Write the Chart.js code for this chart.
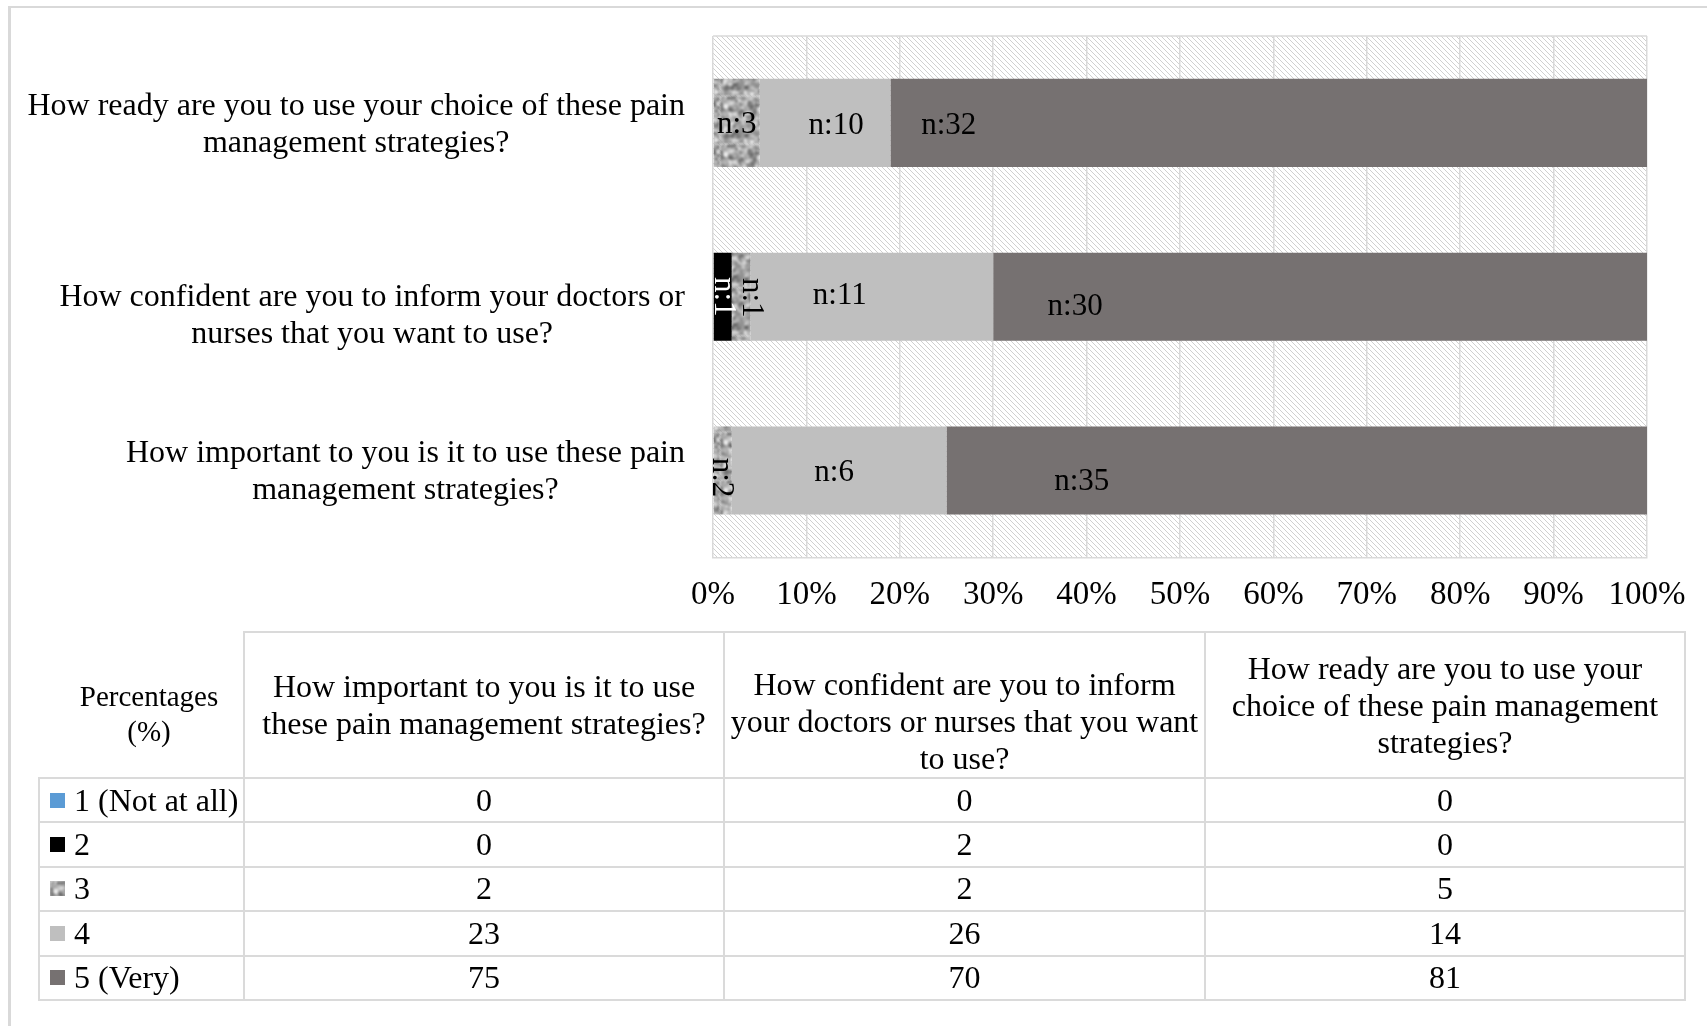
<!DOCTYPE html>
<html>
<head>
<meta charset="utf-8">
<script src="https://cdn.jsdelivr.net/npm/chart.js@4"></script>
<style>
    body { margin: 0; background: #fff; width: 1707px; height: 1026px; overflow: hidden; position: relative; font-family: 'Liberation Serif', 'Times New Roman', serif; }
    #frame { position: absolute; left: 8px; top: 6px; width: 1699px; height: 1020px; border-top: 2px solid #d9d9d9; border-left: 3px solid #d9d9d9; }
    #chart { position: absolute; left: 0; top: 0; }
    #tbl { position: absolute; left: 38px; top: 631px; border-collapse: collapse; table-layout: fixed; font-size: 32px; color: #000; }
    #tbl td { border: 2px solid #dadada; text-align: center; padding: 0 3px; line-height: 37px; }
    #tbl tr.head td { height: 144px; }
    #tbl tr.head td.corner { border-top: none; border-left: none; font-size: 29px; line-height: 35px; padding: 18px 0 0 16px; height: 126px; }
    #tbl tr.row td { height: 42.4px; padding: 0; }
    #tbl tr.row td.name { text-align: left; padding-left: 10px; white-space: nowrap; }
    #tbl td.name canvas { display: inline-block; vertical-align: 3px; margin-right: 9px; }
</style>
</head>
<body>
<div id="frame"></div>
<canvas id="chart" width="1707" height="633"></canvas>
<table id="tbl"></table>
<script>
// categories, bottom to top on the chart, left to right in the table
const categories = [
    ['How important to you is it to use these pain', 'management strategies?'],
    ['How confident are you to inform your doctors or', 'nurses that you want to use?'],
    ['How ready are you to use your choice of these pain', 'management strategies?'],
]
const seriesNames = ['1 (Not at all)', '2', '3', '4', '5 (Very)']

// percentages (table + bar lengths)
const pctNotAtAll = [0, 0, 0]
const pct2 = [0, 2, 0]
const pct3 = [2, 2, 5]
const pct4 = [23, 26, 14]
const pctVery = [75, 70, 81]

// respondent counts shown on the bars
const count1 = [0, 0, 0]
const count2 = [0, 1, 0]
const count3 = [2, 1, 3]
const count4 = [6, 11, 10]
const countVery = [35, 30, 32]

const FONT = "'Liberation Serif', 'Times New Roman', serif"

// label nudges in px [dx, dy], per series then per category
const labelNudge = [
    [[0, 0], [0, 0], [0, 0]],
    [[0, 0], [0, 0], [0, 0]],
    [[-2, 7], [10, 1], [0, 0]],
    [[-5, 0], [-32, -3], [11, 1]],
    [[-215, 9], [-245, 8], [-320, 1]],
]
const categoryLabelDy = [2, 19, 2]

// small seeded generator, only used for the granite texture
function seeded(seed) {
    let s = seed
    return () => {
        s = (s * 1664525 + 1013904223) % 4294967296
        return s / 4294967296
    }
}

function makeGranite() {
    const raw = document.createElement('canvas')
    raw.width = raw.height = 48
    const c = raw.getContext('2d')
    const rnd = seeded(7)
    c.fillStyle = '#adadad'
    c.fillRect(0, 0, 48, 48)
    for (let k = 0; k < 420; k++) {
        const g = Math.floor(80 + rnd() * 175)
        c.fillStyle = `rgba(${g},${g},${g},0.7)`
        c.beginPath()
        c.arc(rnd() * 48, rnd() * 48, 0.8 + rnd() * 2.2, 0, Math.PI * 2)
        c.fill()
    }
    const out = document.createElement('canvas')
    out.width = out.height = 48
    const o = out.getContext('2d')
    o.filter = 'blur(0.9px)'
    for (const dx of [-48, 0, 48]) for (const dy of [-48, 0, 48]) o.drawImage(raw, dx, dy)
    return o.createPattern(out, 'repeat')
}

function makeHatch() {
    const cv = document.createElement('canvas')
    cv.width = cv.height = 5
    const c = cv.getContext('2d')
    c.fillStyle = '#fff'
    c.fillRect(0, 0, 5, 5)
    c.strokeStyle = '#d0d0d0'
    c.lineWidth = 1
    c.beginPath()
    c.moveTo(-1, -1); c.lineTo(6, 6)
    c.moveTo(-1, 4); c.lineTo(1, 6)
    c.moveTo(4, -1); c.lineTo(6, 1)
    c.stroke()
    return c.createPattern(cv, 'repeat')
}

const granite = makeGranite()
const hatch = makeHatch()
const seriesColors = ['#5b9bd5', '#000000', granite, '#bfbfbf', '#767171']
const seriesPct = [pctNotAtAll, pct2, pct3, pct4, pctVery]
const seriesCount = [count1, count2, count3, count4, countVery]

const plotBackground = {
    id: 'plotBackground',
    beforeDraw(chart) {
        const { ctx, chartArea: a } = chart
        ctx.save()
        ctx.fillStyle = hatch
        ctx.fillRect(a.left, a.top, a.width, a.height)
        ctx.strokeStyle = '#d9d9d9'
        ctx.lineWidth = 1.5
        ctx.beginPath()
        ctx.moveTo(a.left, a.top)
        ctx.lineTo(a.right, a.top)
        ctx.stroke()
        ctx.restore()
    }
}

const barLabels = {
    id: 'barLabels',
    afterDatasetsDraw(chart) {
        const ctx = chart.ctx
        ctx.save()
        ctx.font = `31px ${FONT}`
        ctx.textAlign = 'center'
        ctx.textBaseline = 'middle'
        chart.data.datasets.forEach((ds, i) => {
            chart.getDatasetMeta(i).data.forEach((bar, j) => {
                const n = seriesCount[i][j]
                if (!n) return
                const text = `n:${n}`
                const w = Math.abs(bar.x - bar.base)
                const cx = (bar.x + bar.base) / 2 + labelNudge[i][j][0]
                const cy = bar.y + labelNudge[i][j][1]
                const rotated = ctx.measureText(text).width > w
                ctx.fillStyle = i === 1 ? '#fff' : '#000'
                ctx.save()
                ctx.translate(cx, rotated ? cy : cy + 2)
                if (rotated) ctx.rotate(Math.PI / 2)
                ctx.fillText(text, 0, 0)
                ctx.restore()
            })
        })
        ctx.restore()
    }
}

const categoryLabels = {
    id: 'categoryLabels',
    afterDraw(chart) {
        const { ctx, chartArea: a } = chart
        const yScale = chart.scales.y
        ctx.save()
        ctx.font = `32px ${FONT}`
        ctx.fillStyle = '#000'
        ctx.textAlign = 'center'
        ctx.textBaseline = 'middle'
        const lineH = 37
        categories.forEach((lines, i) => {
            const maxW = Math.max(...lines.map(l => ctx.measureText(l).width))
            const cx = a.left - 28 - maxW / 2
            const cy = yScale.getPixelForValue(i) + categoryLabelDy[i]
            lines.forEach((l, k) => {
                ctx.fillText(l, cx, cy + (k - (lines.length - 1) / 2) * lineH)
            })
        })
        ctx.restore()
    }
}

function instantiateChart() {
    const ctx = document.getElementById('chart').getContext('2d')
    new Chart(ctx, {
        type: 'bar',
        data: {
            labels: categories,
            datasets: seriesNames.map((name, i) => ({
                label: name,
                data: seriesPct[i],
                backgroundColor: seriesColors[i],
                borderWidth: 0,
                barPercentage: 0.507,
                categoryPercentage: 1,
            }))
        },
        options: {
            indexAxis: 'y',
            responsive: false,
            animation: false,
            events: [],
            layout: { padding: { left: 713, right: 60, top: 36, bottom: 0 } },
            plugins: { legend: { display: false }, tooltip: { enabled: false } },
            scales: {
                x: {
                    stacked: true,
                    min: 0,
                    max: 100,
                    ticks: {
                        stepSize: 10,
                        callback: v => `${v}%`,
                        font: { family: FONT, size: 33 },
                        color: '#000',
                        padding: 18,
                        maxRotation: 0,
                    },
                    grid: { color: '#d9d9d9', lineWidth: 1.5, drawTicks: false },
                    border: { color: '#d9d9d9', width: 1.5 },
                },
                y: {
                    stacked: true,
                    reverse: true,
                    display: false,
                }
            }
        },
        plugins: [plotBackground, barLabels, categoryLabels]
    })
}

function buildTable() {
    const tbl = document.getElementById('tbl')
    const colW = [205, 480, 481, 480]
    let html = '<colgroup>' + colW.map(w => `<col style="width:${w}px">`).join('') + '</colgroup>'
    html += '<tr class="head"><td class="corner">Percentages<br>(%)</td>'
    categories.forEach((lines, j) => {
        const va = j === 1 ? 'bottom' : 'middle'
        html += `<td style="vertical-align:${va}">${lines.join(' ')}</td>`
    })
    html += '</tr>'
    seriesNames.forEach((name, i) => {
        html += `<tr class="row"><td class="name"><canvas width="15" height="15" data-i="${i}"></canvas>${name}</td>`
        seriesPct[i].forEach(v => { html += `<td>${v}</td>` })
        html += '</tr>'
    })
    tbl.innerHTML = html
    tbl.querySelectorAll('canvas').forEach(cv => {
        const c = cv.getContext('2d')
        c.fillStyle = seriesColors[+cv.dataset.i]
        c.fillRect(0, 0, 15, 15)
    })
}

buildTable()
instantiateChart()
</script>
</body>
</html>
